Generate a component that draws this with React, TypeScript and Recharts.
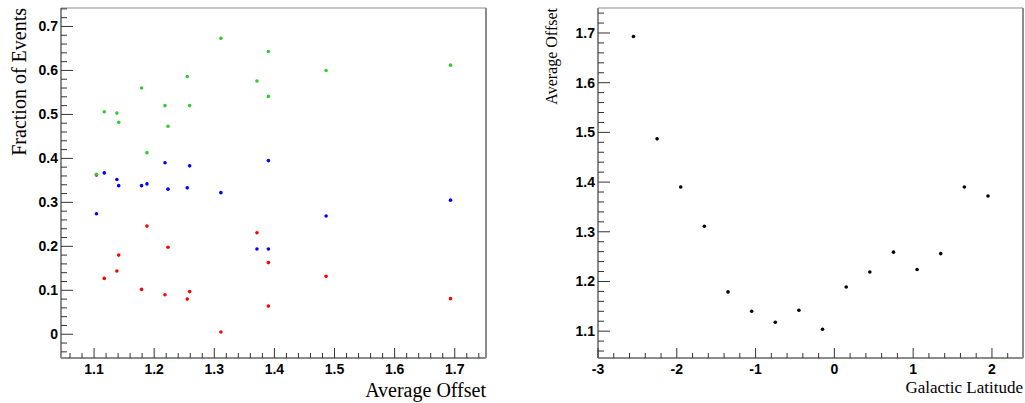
import { ScatterChart, Scatter, XAxis, YAxis, ReferenceLine } from "recharts";

// left panel: fraction of events in each offset bin
const offsets = [1.104, 1.117, 1.138, 1.141, 1.179, 1.188, 1.218, 1.223, 1.255, 1.259, 1.311, 1.371, 1.390, 1.390, 1.486, 1.693];
const fracGreen = [0.364, 0.506, 0.503, 0.482, 0.560, 0.413, 0.520, 0.473, 0.586, 0.520, 0.673, 0.576, 0.643, 0.541, 0.600, 0.612];
const fracBlue = [0.274, 0.367, 0.352, 0.338, 0.338, 0.342, 0.390, 0.330, 0.333, 0.383, 0.322, 0.194, 0.194, 0.395, 0.269, 0.305];
const fracRed = [0.362, 0.127, 0.144, 0.180, 0.102, 0.246, 0.090, 0.198, 0.080, 0.097, 0.005, 0.231, 0.163, 0.064, 0.132, 0.081];

// right panel: average offset vs galactic latitude
const latitude = [-2.55, -2.25, -1.95, -1.65, -1.35, -1.05, -0.75, -0.45, -0.15, 0.15, 0.45, 0.75, 1.05, 1.35, 1.65, 1.95];
const latOffset = [1.693, 1.487, 1.390, 1.311, 1.179, 1.140, 1.118, 1.142, 1.104, 1.189, 1.219, 1.259, 1.224, 1.256, 1.390, 1.372];

const leftXMajor = [1.1, 1.2, 1.3, 1.4, 1.5, 1.6, 1.7];
const leftYMajor = [0, 0.1, 0.2, 0.3, 0.4, 0.5, 0.6, 0.7];
const rightXMajor = [-3, -2, -1, 0, 1, 2];
const rightYMajor = [1.1, 1.2, 1.3, 1.4, 1.5, 1.6, 1.7];

const leftXDomain = [1.045, 1.752];
const leftYDomain = [-0.054, 0.742];
const rightXDomain = [-3, 2.394];
const rightYDomain = [1.046, 1.7503];

const tickFont = "'Liberation Sans', Arial, sans-serif";
const titleFont = "'Liberation Serif', 'Times New Roman', serif";
const frameColor = "#8c8c8c";
const tickColor = "#333";

function steps(lo: number, hi: number, step: number) {
  const out: number[] = [];
  const n = Math.round((hi - lo) / step);
  for (let i = 0; i <= n; i++) out.push(Math.round((lo + i * step) * 1000) / 1000);
  return out;
}

const isMajor = (majors: number[], v: number) => majors.some((m) => Math.abs(m - v) < 1e-6);
const fmt = (v: number) => String(Math.round(v * 10) / 10);

function yTick(majors: number[], majorLen: number, minorLen: number) {
  return (props: any) => {
    const { x, y, payload } = props;
    const major = isMajor(majors, payload.value);
    return (
      <g>
        <line x1={x} x2={x + (major ? majorLen : minorLen)} y1={y} y2={y} stroke={tickColor} />
        {major && (
          <text x={x - 3} y={y + 5} textAnchor="end" fontFamily={tickFont} fontWeight="bold" fontSize={14} fill="#000">
            {fmt(payload.value)}
          </text>
        )}
      </g>
    );
  };
}

function xTick(majors: number[], majorLen: number, minorLen: number) {
  return (props: any) => {
    const { x, y, payload } = props;
    const major = isMajor(majors, payload.value);
    return (
      <g>
        <line x1={x} x2={x} y1={y} y2={y - (major ? majorLen : minorLen)} stroke={tickColor} />
        {major && (
          <text x={x} y={y + 16} textAnchor="middle" fontFamily={tickFont} fontWeight="bold" fontSize={14} fill="#000">
            {fmt(payload.value)}
          </text>
        )}
      </g>
    );
  };
}

function yTitle(text: string, dx: number, size: number) {
  return (props: any) => {
    const vb = props.viewBox || {};
    const x = (vb.x ?? 0) + dx;
    const y = vb.y ?? 8;
    return (
      <text transform={`translate(${x},${y}) rotate(-90)`} textAnchor="end" fontFamily={titleFont} fontSize={size} fill="#000">
        {text}
      </text>
    );
  };
}

function xTitle(text: string, dy: number, size: number) {
  return (props: any) => {
    const vb = props.viewBox || {};
    const x = (vb.x ?? 0) + (vb.width ?? 0);
    const y = (vb.y ?? 0) + dy;
    return (
      <text x={x} y={y} textAnchor="end" fontFamily={titleFont} fontSize={size} fill="#000">
        {text}
      </text>
    );
  };
}

const dot = (color: string) => (props: any) => <circle cx={props.cx} cy={props.cy} r={1.8} fill={color} />;

const greenData = offsets.map((x, i) => ({ x, y: fracGreen[i] }));
const blueData = offsets.map((x, i) => ({ x, y: fracBlue[i] }));
const redData = offsets.map((x, i) => ({ x, y: fracRed[i] }));
const latData = latitude.map((x, i) => ({ x, y: latOffset[i] }));

export default function App() {
  return (
    <div style={{ position: "absolute", left: 0, top: 0, width: 1025, height: 403, background: "#fff" }}>
      <div style={{ position: "absolute", left: 0, top: 0 }}>
        <ScatterChart width={500} height={403} margin={{ top: 8, right: 14, bottom: 0, left: 0 }}>
          <XAxis
            type="number"
            dataKey="x"
            domain={leftXDomain}
            allowDataOverflow
            ticks={steps(1.06, 1.74, 0.02)}
            interval={0}
            tickLine={false}
            tickSize={0}
            tickMargin={0}
            height={45}
            axisLine={{ stroke: frameColor, strokeWidth: 2 }}
            tick={xTick(leftXMajor, 10, 5)}
            label={xTitle("Average Offset", 39, 20)}
          />
          <YAxis
            type="number"
            dataKey="y"
            domain={leftYDomain}
            allowDataOverflow
            ticks={steps(-0.04, 0.74, 0.02)}
            interval={0}
            tickLine={false}
            tickSize={0}
            tickMargin={0}
            width={61}
            axisLine={{ stroke: frameColor, strokeWidth: 2 }}
            tick={yTick(leftYMajor, 12, 6)}
            label={yTitle("Fraction of Events", 26, 20)}
          />
          <ReferenceLine y={leftYDomain[1]} stroke={frameColor} strokeWidth={1} />
          <ReferenceLine x={leftXDomain[1]} stroke={frameColor} strokeWidth={2} />
          <Scatter data={redData} shape={dot("#ff0000")} isAnimationActive={false} />
          <Scatter data={blueData} shape={dot("#0000ff")} isAnimationActive={false} />
          <Scatter data={greenData} shape={dot("#33cc33")} isAnimationActive={false} />
        </ScatterChart>
      </div>
      <div style={{ position: "absolute", left: 520, top: 0 }}>
        <ScatterChart width={505} height={403} margin={{ top: 8, right: 2, bottom: 0, left: 0 }}>
          <XAxis
            type="number"
            dataKey="x"
            domain={rightXDomain}
            allowDataOverflow
            ticks={steps(-3, 2.2, 0.2)}
            interval={0}
            tickLine={false}
            tickSize={0}
            tickMargin={0}
            height={45}
            axisLine={{ stroke: frameColor, strokeWidth: 2 }}
            tick={xTick(rightXMajor, 10, 5)}
            label={xTitle("Galactic Latitude", 35, 17)}
          />
          <YAxis
            type="number"
            dataKey="y"
            domain={rightYDomain}
            allowDataOverflow
            ticks={steps(1.06, 1.74, 0.02)}
            interval={0}
            tickLine={false}
            tickSize={0}
            tickMargin={0}
            width={78}
            axisLine={{ stroke: frameColor, strokeWidth: 2 }}
            tick={yTick(rightYMajor, 12, 6)}
            label={yTitle("Average Offset", 37, 16)}
          />
          <ReferenceLine y={rightYDomain[1]} stroke={frameColor} strokeWidth={1} />
          <ReferenceLine x={rightXDomain[1]} stroke={frameColor} strokeWidth={2} />
          <Scatter data={latData} shape={dot("#000")} isAnimationActive={false} />
        </ScatterChart>
      </div>
    </div>
  );
}
